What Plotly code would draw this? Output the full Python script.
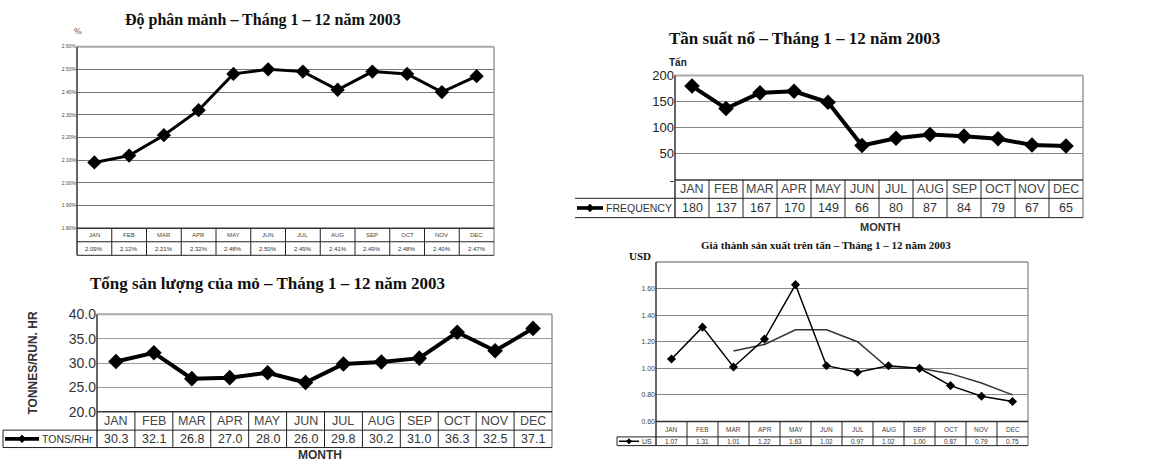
import plotly.graph_objects as go

W, H = 1157, 471

months = ["JAN", "FEB", "MAR", "APR", "MAY", "JUN", "JUL", "AUG", "SEP", "OCT", "NOV", "DEC"]
frag_pct = [2.09, 2.12, 2.21, 2.32, 2.48, 2.50, 2.49, 2.41, 2.49, 2.48, 2.40, 2.47]
tons_rhr = [30.3, 32.1, 26.8, 27.0, 28.0, 26.0, 29.8, 30.2, 31.0, 36.3, 32.5, 37.1]
frequency = [180, 137, 167, 170, 149, 66, 80, 87, 84, 79, 67, 65]
cost_usd = [1.07, 1.31, 1.01, 1.22, 1.63, 1.02, 0.97, 1.02, 1.00, 0.87, 0.79, 0.75]
cost_trend = [None, None, 1.13, 1.18, 1.29, 1.29, 1.20, 1.00, 1.00, 0.96, 0.89, 0.80]

frag_ticks = [1.80, 1.90, 2.00, 2.10, 2.20, 2.30, 2.40, 2.50, 2.60]
tons_ticks = [20, 25, 30, 35, 40]
freq_ticks = [0, 50, 100, 150, 200]
freq_ticktext = ["-", "50", "100", "150", "200"]
cost_ticks = [0.60, 0.80, 1.00, 1.20, 1.40, 1.60]

SANS = "Liberation Sans, Arial, sans-serif"
SERIF = "Liberation Serif, Times New Roman, serif"

fig = go.Figure()
shapes = []
annotations = []
layout = {}


def PX(x):
    return x / W


def PY(y):
    return 1 - y / H


def hline(x0, x1, y, color="#222", w=1):
    shapes.append(dict(type="line", xref="paper", yref="paper", x0=PX(x0), x1=PX(x1),
                       y0=PY(y), y1=PY(y), line=dict(color=color, width=w)))


def vline(x, y0, y1, color="#222", w=1):
    shapes.append(dict(type="line", xref="paper", yref="paper", x0=PX(x), x1=PX(x),
                       y0=PY(y0), y1=PY(y1), line=dict(color=color, width=w)))


def diamond(cx, cy, s, color="black"):
    path = "M {a},{b} L {c},{d} L {e},{f} L {g},{h} Z".format(
        a=PX(cx), b=PY(cy - s), c=PX(cx + s), d=PY(cy), e=PX(cx), f=PY(cy + s), g=PX(cx - s), h=PY(cy))
    shapes.append(dict(type="path", xref="paper", yref="paper", path=path,
                       fillcolor=color, line=dict(color=color, width=1)))


def text(x, y, s, size, family=SANS, color="#111", bold=False, xanchor="center", angle=0):
    if bold:
        s = "<b>" + s + "</b>"
    annotations.append(dict(x=PX(x), y=PY(y), xref="paper", yref="paper", text=s, showarrow=False,
                            font=dict(size=size, family=family, color=color),
                            xanchor=xanchor, yanchor="middle", textangle=angle))


def panel(n, values, labels, box, yrange, tickvals, ticktext, tickfont, lw, ms, rows,
          tabfont, gridcolor, axcolor, leg=None, extra=None):
    x0, x1, y0, y1 = box
    xr = "x" if n == 1 else f"x{n}"
    yr = "y" if n == 1 else f"y{n}"
    xa = "xaxis" if n == 1 else f"xaxis{n}"
    ya = "yaxis" if n == 1 else f"yaxis{n}"
    xs = list(range(12))
    if extra is not None:
        fig.add_trace(go.Scatter(x=xs, y=extra, xaxis=xr, yaxis=yr, mode="lines",
                                 line=dict(color="#333", width=1.5), hoverinfo="skip"))
    fig.add_trace(go.Scatter(x=xs, y=values, xaxis=xr, yaxis=yr, mode="lines+markers",
                             line=dict(color="black", width=lw),
                             marker=dict(symbol="diamond", size=ms, color="black"),
                             cliponaxis=False))
    layout[xa] = dict(domain=[PX(x0), PX(x1)], range=[-0.5, 11.5], showticklabels=False,
                      showgrid=False, zeroline=False, anchor=yr, fixedrange=True)
    layout[ya] = dict(domain=[PY(y1), PY(y0)], range=yrange, tickvals=tickvals, ticktext=ticktext,
                      tickfont=tickfont, showgrid=True, gridcolor=gridcolor, gridwidth=1,
                      zeroline=False, showline=False, ticks="", anchor=xr, fixedrange=True)
    ra, rb, rc = rows
    hline(x0, x1, y0, color="#aaa", w=2)
    vline(x1, y0, rc, color="#999", w=1.5)
    vline(x0, y0, rc, color=axcolor, w=1.5)
    hline(x0, x1, ra, color=axcolor, w=1.5)
    lx = leg[0] if leg else x0
    hline(lx, x1, rb, color="#222", w=1)
    hline(lx, x1, rc, color="#222", w=1)
    if leg and leg[4]:
        vline(lx, rb, rc, color="#222", w=1)
    for i in range(11):
        shapes.append(dict(type="line", xref=xr, yref="paper", x0=i + 0.5, x1=i + 0.5,
                           y0=PY(ra), y1=PY(rc), line=dict(color="#222", width=1)))
    for i in range(12):
        annotations.append(dict(x=i, y=PY((ra + rb) / 2), xref=xr, yref="paper", text=months[i],
                                showarrow=False, font=dict(size=tabfont, family=SANS, color="#444"),
                                xanchor="center", yanchor="middle"))
        annotations.append(dict(x=i, y=PY((rb + rc) / 2), xref=xr, yref="paper", text=labels[i],
                                showarrow=False, font=dict(size=tabfont, family=SANS, color="#333"),
                                xanchor="center", yanchor="middle"))
    if leg:
        lx0, llen, lname, lfs, _ = leg
        cy = (rb + rc) / 2
        hline(lx0 + 2, lx0 + 2 + llen, cy, color="black", w=max(1.5, lw * 0.9))
        diamond(lx0 + 2 + llen / 2, cy, max(2.5, ms / 3.2))
        text(lx0 + 3 + llen, cy, lname, lfs, color="#333", xanchor="left")


# Panel 1: fragmentation
panel(1, frag_pct, [f"{v:.2f}%" for v in frag_pct], (77, 494, 40, 228), [1.80, 2.60],
      frag_ticks, [f"{v:.2f}%" for v in frag_ticks], dict(size=5, family=SANS, color="#444"),
      3, 11, (228, 242, 256), 6, "#777", "#333")
text(263, 12, "Độ phân mảnh – Tháng 1 – 12 năm 2003", 16, family=SERIF, bold=True)
text(78, 24, "%", 9, family=SERIF, color="#444")

# Panel 2: tonnes per run hour
panel(2, tons_rhr, [f"{v:.1f}" for v in tons_rhr], (97, 552, 317, 418), [20, 40],
      tons_ticks, [f"{v:.1f}" for v in tons_ticks], dict(size=14, family=SANS, color="#333"),
      4, 12, (418, 437, 455), 12.5, "#999", "#333", leg=(3, 34, "TONS/RHr", 10.5, True))
text(267, 285, "Tổng sản lượng của mỏ – Tháng 1 – 12 năm 2003", 17, family=SERIF, bold=True)
text(33, 368, "TONNES/RUN. HR", 12, bold=True, color="#333", angle=-90)
text(320, 463, "MONTH", 12, bold=True, color="#333")

# Panel 3: frequency
panel(3, frequency, [str(v) for v in frequency], (675, 1083, 70, 178), [0, 200],
      freq_ticks, freq_ticktext, dict(size=13, family=SANS, color="#222"),
      4, 12, (178, 197, 217), 12.5, "#888", "#333", leg=(575, 26, "FREQUENCY", 10.5, False))
text(804, 32, "Tần suất nổ – Tháng 1 – 12 năm 2003", 17, family=SERIF, bold=True)
text(678, 56, "Tấn", 10, bold=True, color="#222")
text(880, 227, "MONTH", 11, bold=True, color="#333")

# Panel 4: cost per tonne
panel(4, cost_usd, [f"{v:.2f}" for v in cost_usd], (656, 1028, 263, 428), [0.60, 1.80],
      cost_ticks, [f"{v:.2f}" for v in cost_ticks], dict(size=7, family=SANS, color="#444"),
      1.5, 7, (428, 444, 453), 6.5, "#888", "#333", leg=(617, 20, "US", 7, True), extra=cost_trend)
text(826, 245, "Giá thành sản xuất trên tấn – Tháng 1 – 12 năm 2003", 11, family=SERIF, bold=True)
text(640, 257, "USD", 11, family=SERIF, bold=True)

fig.update_layout(
    width=W, height=H, margin=dict(l=0, r=0, t=0, b=0),
    paper_bgcolor="white", plot_bgcolor="white", showlegend=False,
    shapes=shapes, annotations=annotations, **layout,
)

fig.write_html("out.html")
